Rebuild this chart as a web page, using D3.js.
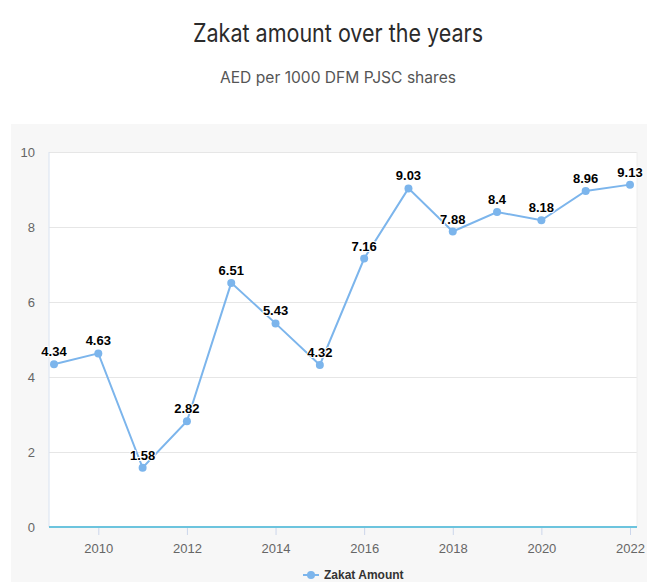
<!DOCTYPE html>
<html><head><meta charset="utf-8">
<script src="https://cdn.jsdelivr.net/npm/d3@7"></script>
<style>
html,body{margin:0;padding:0;background:#fff;}
svg{display:block;}
</style></head>
<body>
<svg id="c" width="647" height="582"></svg>
<script>
const years = [2009,2010,2011,2012,2013,2014,2015,2016,2017,2018,2019,2020,2021,2022];
const zakat = [4.34,4.63,1.58,2.82,6.51,5.43,4.32,7.16,9.03,7.88,8.4,8.18,8.96,9.13];
const xTicks = [2010,2012,2014,2016,2018,2020,2022];
const yTicks = [0,2,4,6,8,10];
const title = "Zakat amount over the years";
const subtitle = "AED per 1000 DFM PJSC shares";
const seriesName = "Zakat Amount";

const svg = d3.select("#c");
const W = 647, H = 582;
const color = "#7cb5ec";

svg.append("rect").attr("x",11).attr("y",124).attr("width",W-11).attr("height",H-124).attr("fill","#f7f7f7");

svg.append("text").attr("x",338).attr("y",42).attr("text-anchor","middle")
  .attr("font-family","Inter, 'Noto Sans', sans-serif").attr("font-size",25).attr("fill","#2b2b2b")
  .attr("textLength",290).attr("lengthAdjust","spacingAndGlyphs")
  .text(title);
svg.append("text").attr("x",338).attr("y",83).attr("text-anchor","middle")
  .attr("font-family","Inter, 'Noto Sans', sans-serif").attr("font-size",15.5).attr("fill","#555")
  .attr("textLength",236).attr("lengthAdjust","spacingAndGlyphs")
  .text(subtitle);

const plot = {l:49, r:637, t:152, b:527};
svg.append("rect").attr("x",plot.l).attr("y",plot.t).attr("width",plot.r-plot.l).attr("height",plot.b-plot.t)
  .attr("fill","#fff");

const x = d3.scaleLinear().domain([2009,2022]).range([54,630]);
const y = d3.scaleLinear().domain([0,10]).range([plot.b,plot.t]);

const yAxis = d3.axisLeft(y).tickValues(yTicks).tickSize(-(plot.r-plot.l)).tickPadding(14).tickFormat(d3.format("d"));
const gy = svg.append("g").attr("transform",`translate(${plot.l},0)`).call(yAxis);
gy.select(".domain").remove();
gy.selectAll(".tick line").attr("stroke","#e6e6e6");
gy.selectAll(".tick text").attr("font-family","'Liberation Sans', Arial, sans-serif").attr("font-size",13).attr("fill","#666");

svg.append("line").attr("x1",plot.l).attr("x2",plot.l).attr("y1",plot.t).attr("y2",plot.b).attr("stroke","#d8e2f0");
svg.append("line").attr("x1",plot.r).attr("x2",plot.r).attr("y1",plot.t).attr("y2",plot.b).attr("stroke","#eeeeee");

const xAxis = d3.axisBottom(x).tickValues(xTicks).tickSize(10).tickPadding(4).tickFormat(d3.format("d"));
const gx = svg.append("g").attr("transform",`translate(0,${plot.b})`).call(xAxis);
gx.select(".domain").remove();
gx.selectAll(".tick line").attr("stroke","#ccd6eb").attr("y2",8);
gx.selectAll(".tick text").attr("font-family","'Liberation Sans', Arial, sans-serif").attr("font-size",13).attr("fill","#666").attr("dy","0.95em");
svg.append("line").attr("x1",plot.l).attr("x2",plot.r).attr("y1",plot.b).attr("y2",plot.b).attr("stroke","#6cc4de").attr("stroke-width",2);

const pts = years.map((yr,i)=>({yr, v:zakat[i]}));
svg.append("path").datum(pts)
  .attr("d", d3.line().x(d=>x(d.yr)).y(d=>y(d.v)))
  .attr("fill","none").attr("stroke",color).attr("stroke-width",2);
svg.selectAll("circle.pt").data(pts).join("circle").attr("class","pt")
  .attr("cx",d=>x(d.yr)).attr("cy",d=>y(d.v)).attr("r",4).attr("fill",color);

svg.selectAll("text.lbl").data(pts).join("text").attr("class","lbl")
  .attr("x",d=>x(d.yr)).attr("y",d=>y(d.v)-8).attr("text-anchor","middle")
  .attr("font-family","'Liberation Sans', Arial, sans-serif").attr("font-size",13).attr("font-weight","bold")
  .attr("fill","#000").attr("stroke","#fff").attr("stroke-width",2).attr("paint-order","stroke")
  .text(d=>d.v);

const lg = svg.append("g").attr("transform","translate(303,575)");
lg.append("line").attr("x1",0).attr("x2",16).attr("y1",0).attr("y2",0).attr("stroke",color).attr("stroke-width",2);
lg.append("circle").attr("cx",8).attr("cy",0).attr("r",4).attr("fill",color);
lg.append("text").attr("x",21).attr("y",4).attr("font-family","'Liberation Sans', Arial, sans-serif")
  .attr("font-size",12).attr("font-weight","bold").attr("fill","#333").text(seriesName);
</script>
</body></html>
